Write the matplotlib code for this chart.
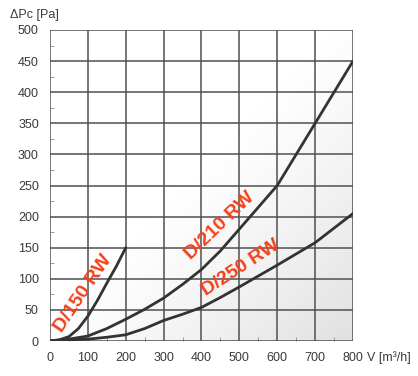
import numpy as np
import matplotlib
matplotlib.use("Agg")
import matplotlib.pyplot as plt
from matplotlib.ticker import MultipleLocator

plt.rcParams['font.family'] = ['Liberation Sans', 'DejaVu Sans']

# Data
d150_x = [0, 25, 50, 75, 100, 125, 150, 175, 200]
d150_y = [0, 2, 7, 20, 40, 65, 93, 120, 150]

d210_x = [0, 50, 100, 150, 200, 250, 300, 350, 400, 450, 500, 550, 600, 700, 800]
d210_y = [0, 3, 8, 20, 35, 51, 69, 91, 115, 145, 180, 215, 250, 350, 450]

d250_x = [0, 100, 150, 200, 250, 300, 350, 400, 450, 500, 600, 700, 800]
d250_y = [0, 3, 6, 10, 20, 33, 43, 54, 70, 87, 122, 158, 205]

labels = ["D/150 RW", "D/210 RW", "D/250 RW"]
xticks = [0, 100, 200, 300, 400, 500, 600, 700, 800]
yticks = [0, 50, 100, 150, 200, 250, 300, 350, 400, 450, 500]

fig = plt.figure(figsize=(4.18, 3.76), dpi=100)
ax = fig.add_axes([50/418, 35/376, 303/418, 311/376])

# gradient background
gx, gy = np.meshgrid(np.linspace(0, 1, 200), np.linspace(0, 1, 200))
g = np.clip((gx - gy) * 0.9 + 0.1, 0, 1) ** 1.2
ax.imshow(1 - 0.12 * g, cmap="gray", vmin=0, vmax=1, extent=[0, 800, 500, 0],
          aspect="auto", zorder=0, origin="upper")
ax.set_xlim(0, 800)
ax.set_ylim(0, 500)

for s in ax.spines.values():
    s.set_visible(False)

ax.set_xticks(xticks)
ax.set_yticks(yticks)
ax.xaxis.set_minor_locator(MultipleLocator(50))
ax.yaxis.set_minor_locator(MultipleLocator(25))
ax.tick_params(which="major", length=0, labelsize=9, labelcolor="#3a3a3a", pad=8)
ax.tick_params(which="minor", length=3, direction="in", color="#888888")
ax.grid(True, which="major", color="#505050", linewidth=1.1, zorder=1)
ax.set_axisbelow(True)

for xs, ys in [(d150_x, d150_y), (d210_x, d210_y), (d250_x, d250_y)]:
    ax.plot(xs, ys, color="#333333", linewidth=2.0, zorder=3,
            solid_capstyle="round", solid_joinstyle="round")

red = "#f5401a"
ax.text(87, 76, labels[0], rotation=56, color=red, fontsize=14, fontweight="bold",
        ha="center", va="center", zorder=4)
ax.text(449, 186, labels[1], rotation=44, color=red, fontsize=14, fontweight="bold",
        ha="center", va="center", zorder=4)
ax.text(504, 117, labels[2], rotation=33, color=red, fontsize=14, fontweight="bold",
        ha="center", va="center", zorder=4)

fig.text(10/418, 1 - 15/376, "ΔPc [Pa]", fontsize=9, color="#3a3a3a", ha="left", va="center")
fig.text(367/418, 1 - 358/376, "V [m³/h]", fontsize=9, color="#3a3a3a", ha="left", va="center")

fig.savefig("out.png", dpi=100)
